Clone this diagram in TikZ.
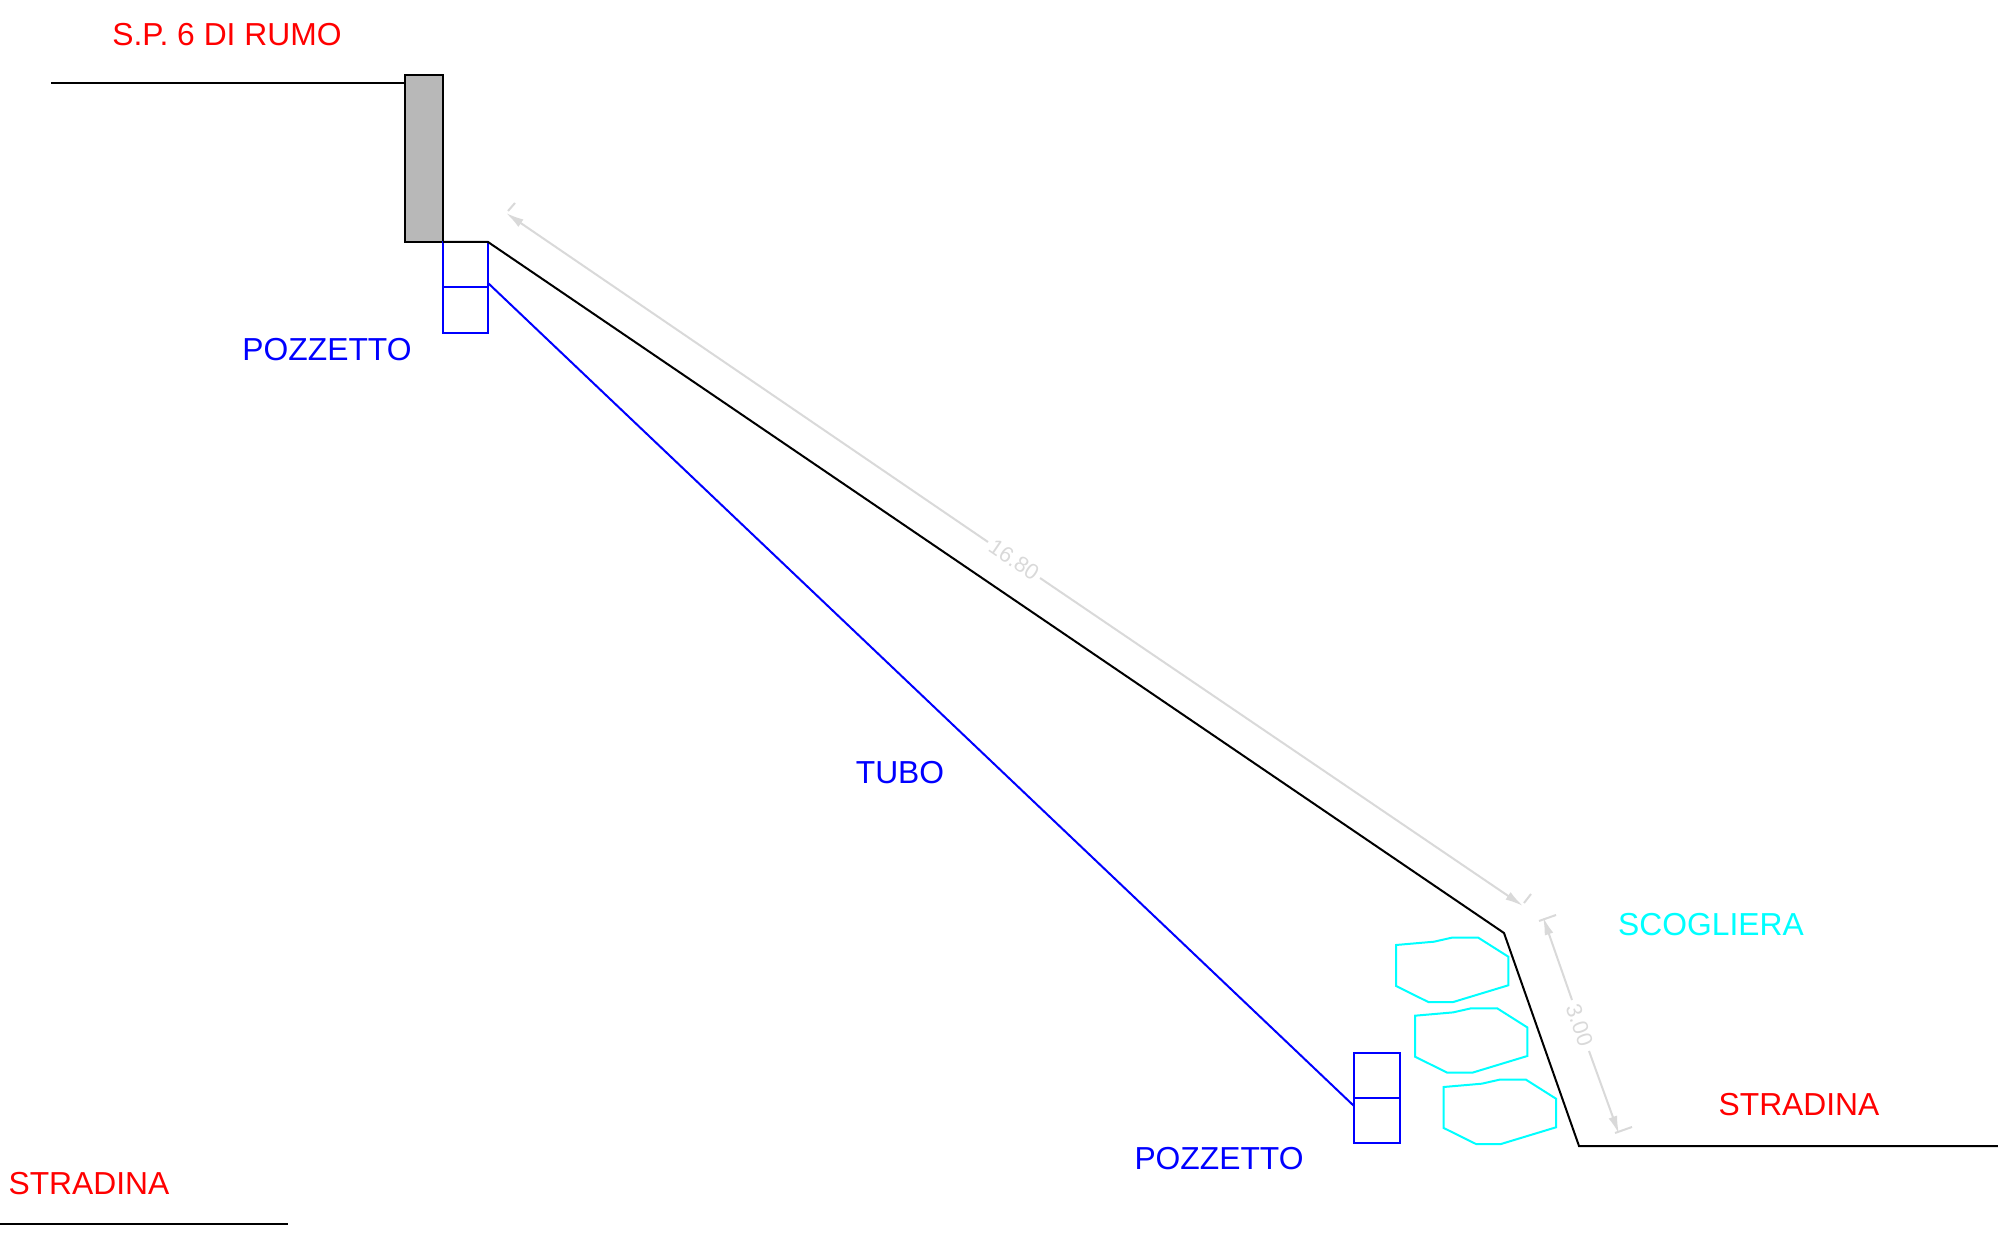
\documentclass[tikz,border=0pt]{standalone}
\usepackage{fontspec}
\setmainfont{Liberation Sans}
\usetikzlibrary{arrows.meta}
\definecolor{dimgray}{HTML}{D9D9D9}
\definecolor{wallgray}{HTML}{B8B8B8}
\definecolor{rockcyan}{HTML}{00FFFF}
\tikzset{
  ground/.style={draw=black,line width=1pt},
  wall/.style={draw=black,fill=wallgray,line width=1pt},
  pipe/.style={draw=blue,line width=1pt},
  rock/.style={draw=rockcyan,line width=1pt},
  dimline/.style={draw=dimgray,line width=1pt},
  dimarrow/.style={dimline,-{Latex[length=9pt,width=4.5pt,fill=dimgray]}},
  lab/.style={font=\fontsize{15.9pt}{18pt}\selectfont,inner sep=0pt,anchor=center},
  dimtext/.style={font=\fontsize{11pt}{13pt}\selectfont,text=dimgray,inner sep=0pt,anchor=center}
}
\begin{document}
\begin{tikzpicture}[x=0.5pt,y=-0.5pt]
\useasboundingbox (0,0) rectangle (1998,1245);
% ground
\coordinate (roadL) at (51,83);
\coordinate (roadR) at (404,83);
\coordinate (ledgeL) at (443,242);
\coordinate (crest) at (488,242);
\coordinate (toe) at (1504,933);
\coordinate (foot) at (1579,1146);
\coordinate (endR) at (1998,1146);
\coordinate (lowL) at (0,1224);
\coordinate (lowR) at (288,1224);
\draw[ground] (roadL) -- (roadR);
\draw[ground] (lowL) -- (lowR);
\draw[wall] (405,75) rectangle (443,242);
% pozzetti
\draw[pipe] (443,242) rectangle (488,333);
\draw[pipe] (443,287) -- (488,287);
\draw[pipe] (1354,1053) rectangle (1400,1143);
\draw[pipe] (1354,1098) -- (1400,1098);
\coordinate (tubeA) at (488,283);
\coordinate (tubeB) at (1354,1106);
\draw[pipe] (tubeA) -- (tubeB);
\draw[ground,line join=miter] (ledgeL) -- (crest) -- (toe) -- (foot) -- (endR);
% rocks
\foreach \dx/\dy in {0/0,19/70.7,47.7/142}{
\draw[rock,shift={(\dx,\dy)}] (1396,945) -- (1434,941.7) -- (1451.7,937.7) -- (1478.3,937.7) -- (1508.3,956.7) -- (1508.3,985.3) -- (1453.3,1002) -- (1428.3,1002) -- (1396,986) -- cycle;
}
% dimensions
\coordinate (a1) at (506,213);
\coordinate (a2) at (988,542);
\coordinate (a3) at (1040,578);
\coordinate (a4) at (1523,906);
\draw[dimarrow] (a2) -- (a1);
\draw[dimarrow] (a3) -- (a4);
\draw[dimline] (515,203) -- (508,211);
\draw[dimline] (1531,894) -- (1524,903);
\node[dimtext,rotate=-34.3] (d1) at (1014,560) {16.80};
\coordinate (b1) at (1543,917);
\coordinate (b2) at (1572,1000);
\coordinate (b3) at (1589,1051);
\coordinate (b4) at (1619,1134);
\draw[dimarrow] (b2) -- (b1);
\draw[dimarrow] (b3) -- (b4);
\draw[dimline] (1539,921) -- (1556,915);
\draw[dimline] (1615,1133) -- (1632,1127);
\node[dimtext,rotate=-70.8] (d2) at (1579.5,1025) {3.00};
% labels
\node[lab,text=red] (l1) at (227,35) {S.P. 6 DI RUMO};
\node[lab,text=blue] (l2) at (327,349.5) {POZZETTO};
\node[lab,text=blue] (l3) at (900,773) {TUBO};
\node[lab,text=rockcyan] (l4) at (1711,924.5) {SCOGLIERA};
\node[lab,text=red] (l5) at (1799,1104.5) {STRADINA};
\node[lab,text=blue] (l6) at (1219,1158.5) {POZZETTO};
\node[lab,text=red] (l7) at (89,1183.5) {STRADINA};
\end{tikzpicture}
\end{document}
